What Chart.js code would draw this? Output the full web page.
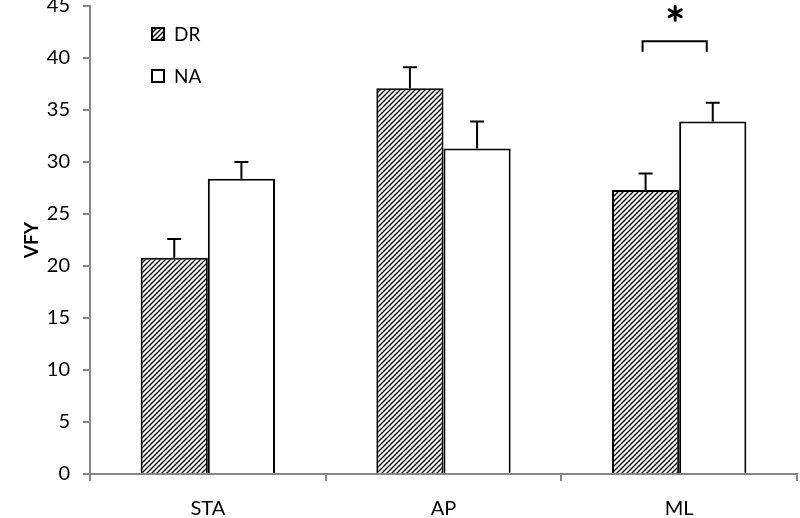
<!DOCTYPE html>
<html>
<head>
<meta charset="utf-8">
<script src="https://cdn.jsdelivr.net/npm/chart.js@4/dist/chart.umd.min.js"></script>
<style>
  html, body { margin: 0; padding: 0; background: #fff; }
  #wrap { width: 800px; height: 518px; }
</style>
</head>
<body>
<div id="wrap"><canvas id="grafica" width="800" height="518"></canvas></div>
<script>
// datos
const categorias = ['STA', 'AP', 'ML'];
const serieDR = [20.8, 37.1, 27.3];
const serieNA = [28.4, 31.3, 33.9];
const errorDR = [1.8, 2.0, 1.6];
const errorNA = [1.6, 2.6, 1.8];
// significancia: categoria, altura del corchete, altura de la estrella
const significancia = [{ cat: 2, y: 41.6, pie: 40.6, star: 44.3 }];

const FUENTE = 'Lato, "Open Sans", sans-serif';

// patron de rayas diagonales para la serie DR
const rayas = () => {
    const c = document.createElement('canvas');
    c.width = 5; c.height = 5;
    const ctx = c.getContext('2d');
    ctx.fillStyle = '#fff';
    ctx.fillRect(0, 0, 5, 5);
    ctx.strokeStyle = '#000';
    ctx.lineWidth = 1.4;
    ctx.beginPath();
    ctx.moveTo(-1, 6); ctx.lineTo(6, -1);
    ctx.moveTo(-1, 1); ctx.lineTo(1, -1);
    ctx.moveTo(4, 6); ctx.lineTo(6, 4);
    ctx.stroke();
    return ctx.createPattern(c, 'repeat');
}

/**
 * dibuja barras de error (solo hacia arriba)
 */
const barrasError = {
    id: 'barrasError',
    afterDatasetsDraw(chart) {
        const ctx = chart.ctx;
        const y = chart.scales.y;
        [errorDR, errorNA].forEach((errs, i) => {
            const meta = chart.getDatasetMeta(i);
            meta.data.forEach((bar, j) => {
                const v = chart.data.datasets[i].data[j];
                const top = y.getPixelForValue(v + errs[j]);
                ctx.save();
                ctx.strokeStyle = '#000';
                ctx.lineWidth = 2;
                ctx.beginPath();
                ctx.moveTo(bar.x, bar.y);
                ctx.lineTo(bar.x, top);
                ctx.moveTo(bar.x - 7, top);
                ctx.lineTo(bar.x + 7, top);
                ctx.stroke();
                ctx.restore();
            });
        });
    }
}

// estrella de seis puntas
const estrella = (ctx, cx, cy, r) => {
    ctx.save();
    ctx.strokeStyle = '#000';
    ctx.lineWidth = 3;
    ctx.lineCap = 'round';
    ctx.beginPath();
    for (let k = 0; k < 3; k++) {
        const a = Math.PI / 2 + k * Math.PI / 3;
        ctx.moveTo(cx + r * Math.cos(a), cy + r * Math.sin(a));
        ctx.lineTo(cx - r * Math.cos(a), cy - r * Math.sin(a));
    }
    ctx.stroke();
    ctx.restore();
}

/**
 * corchete y estrella de significancia
 */
const marcaSignificancia = {
    id: 'marcaSignificancia',
    afterDatasetsDraw(chart) {
        const ctx = chart.ctx;
        const y = chart.scales.y;
        significancia.forEach(s => {
            const b1 = chart.getDatasetMeta(0).data[s.cat];
            const b2 = chart.getDatasetMeta(1).data[s.cat];
            const yy = y.getPixelForValue(s.y);
            const yp = y.getPixelForValue(s.pie);
            ctx.save();
            ctx.strokeStyle = '#000';
            ctx.lineWidth = 2;
            ctx.beginPath();
            ctx.moveTo(b1.x - 3, yp);
            ctx.lineTo(b1.x - 3, yy);
            ctx.lineTo(b2.x - 6, yy);
            ctx.lineTo(b2.x - 6, yp);
            ctx.stroke();
            ctx.restore();
            estrella(ctx, (b1.x + b2.x) / 2 - 4, y.getPixelForValue(s.star), 7);
        });
    }
}

/**
 * leyenda dentro del area de la grafica
 */
const leyenda = {
    id: 'leyenda',
    afterDraw(chart) {
        const ctx = chart.ctx;
        const area = chart.chartArea;
        ctx.save();
        chart.data.datasets.forEach((ds, i) => {
            const x = area.left + 62;
            const yy = area.top + 22 + i * 42;
            ctx.fillStyle = ds.backgroundColor;
            ctx.fillRect(x, yy, 12, 12);
            ctx.strokeStyle = '#000';
            ctx.lineWidth = 2;
            ctx.strokeRect(x, yy, 12, 12);
            ctx.fillStyle = '#000';
            ctx.font = '19px ' + FUENTE;
            ctx.textBaseline = 'middle';
            ctx.textAlign = 'left';
            ctx.fillText(ds.label, x + 22, yy + 7);
        });
        ctx.restore();
    }
}

const element = document.getElementById('grafica').getContext('2d');
const graph = new Chart(element, {
    type: 'bar',
    data: {
        labels: categorias,
        datasets: [{
            label: 'DR',
            data: serieDR,
            backgroundColor: rayas(),
            borderColor: '#000',
            borderWidth: 2
        }, {
            label: 'NA',
            data: serieNA,
            backgroundColor: '#fff',
            borderColor: '#000',
            borderWidth: 2
        }]
    },
    options: {
        responsive: false,
        animation: false,
        events: [],
        layout: { padding: { top: 6, right: 3, left: 0, bottom: 0 } },
        datasets: {
            bar: { categoryPercentage: 0.57, barPercentage: 1 }
        },
        plugins: {
            legend: { display: false },
            tooltip: { enabled: false }
        },
        scales: {
            x: {
                grid: {
                    offset: true,
                    drawOnChartArea: false,
                    drawTicks: true,
                    tickLength: 7,
                    color: '#868686',
                    lineWidth: 2
                },
                border: { color: '#868686', width: 2 },
                ticks: {
                    color: '#000',
                    font: { family: FUENTE, size: 20 },
                    padding: 16
                },
                afterFit: (s) => { s.height = 44; s.paddingLeft = 0; s.paddingRight = 0; }
            },
            y: {
                min: 0,
                max: 45,
                ticks: {
                    stepSize: 5,
                    color: '#000',
                    font: { family: FUENTE, size: 20 },
                    padding: 13
                },
                grid: {
                    drawOnChartArea: false,
                    drawTicks: true,
                    tickLength: 7,
                    color: '#868686',
                    lineWidth: 2
                },
                border: { color: '#868686', width: 2 },
                title: {
                    display: true,
                    text: 'VFY',
                    color: '#000',
                    font: { family: FUENTE, size: 19, weight: 'bold' },
                    padding: { top: 20, bottom: 0 }
                },
                afterFit: (s) => { s.width = 90; s.paddingTop = 0; s.paddingBottom = 0; }
            }
        }
    },
    plugins: [barrasError, marcaSignificancia, leyenda]
});
</script>
</body>
</html>
